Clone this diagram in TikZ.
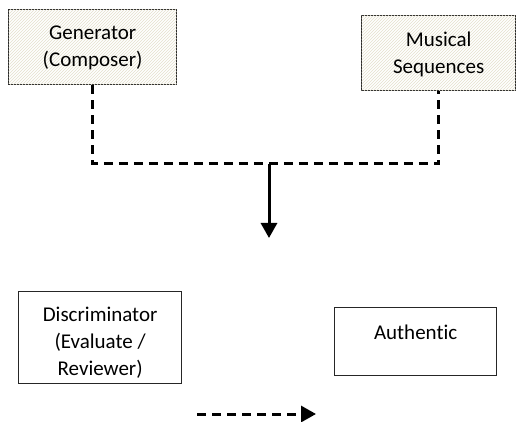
\documentclass[tikz,border=0pt]{standalone}
\usepackage{fontspec}
\setmainfont[Ligatures=NoCommon]{Carlito}
\usetikzlibrary{positioning,calc,patterns,arrows.meta}
\definecolor{hatchcol}{rgb}{0.90,0.88,0.80}

\begin{document}
\begin{tikzpicture}[
    x=1pt, y=-1pt,
    hatchbox/.style={
        draw=black!85,
        line width=1.3pt,
        fill=white,
        postaction={pattern=north east lines, pattern color=hatchcol},
        inner sep=0pt
    },
    plainbox/.style={
        draw=black!85,
        line width=1.3pt,
        fill=white,
        inner sep=0pt
    },
    boxtext/.style={font=\fontsize{21}{27}\selectfont, align=center, anchor=north},
    link/.style={line width=3pt, dash pattern=on 9pt off 6pt},
    arrow/.style={-{Triangle[width=16pt,length=15pt]}, line width=3pt}
]
    % Canvas
    \useasboundingbox (0,0) rectangle (517,422);

    % Top row: generator and sequences
    \node[hatchbox, minimum width=168pt, minimum height=75pt, anchor=north west] (gen) at (8,9) {};
    \node[boxtext] (gentext) at (gen.north) [yshift=-13pt] {Generator\\(Composer)};
    \node[hatchbox, minimum width=154pt, minimum height=75pt, anchor=north west] (seq) at (361,15) {};
    \node[boxtext] (seqtext) at (seq.north) [yshift=-13pt] {Musical\\Sequences};

    % Bottom row: discriminator and result
    \node[plainbox, minimum width=163pt, minimum height=92pt, anchor=north west] (disc) at (18,291) {};
    \node[boxtext] (disctext) at (disc.north) [yshift=-13pt] {Discriminator\\(Evaluate /\\Reviewer)};
    \node[plainbox, minimum width=162pt, minimum height=68pt, anchor=north west] (auth) at (334,307) {};
    \node[boxtext] (authtext) at (auth.north) [yshift=-14pt] {Authentic};

    % Junction and arrow ends
    \coordinate (join) at (269,164);
    \coordinate (drop) at (269,238);
    \coordinate (flowstart) at (197,414);
    \coordinate (flowend) at (316,414);

    % Connectors
    \draw[link] (gen.south) |- (join) -| (seq.south);
    \draw[arrow] (join) -- (drop);
    \draw[arrow, dash pattern=on 9pt off 6pt] (flowstart) -- (flowend);
\end{tikzpicture}
\end{document}
